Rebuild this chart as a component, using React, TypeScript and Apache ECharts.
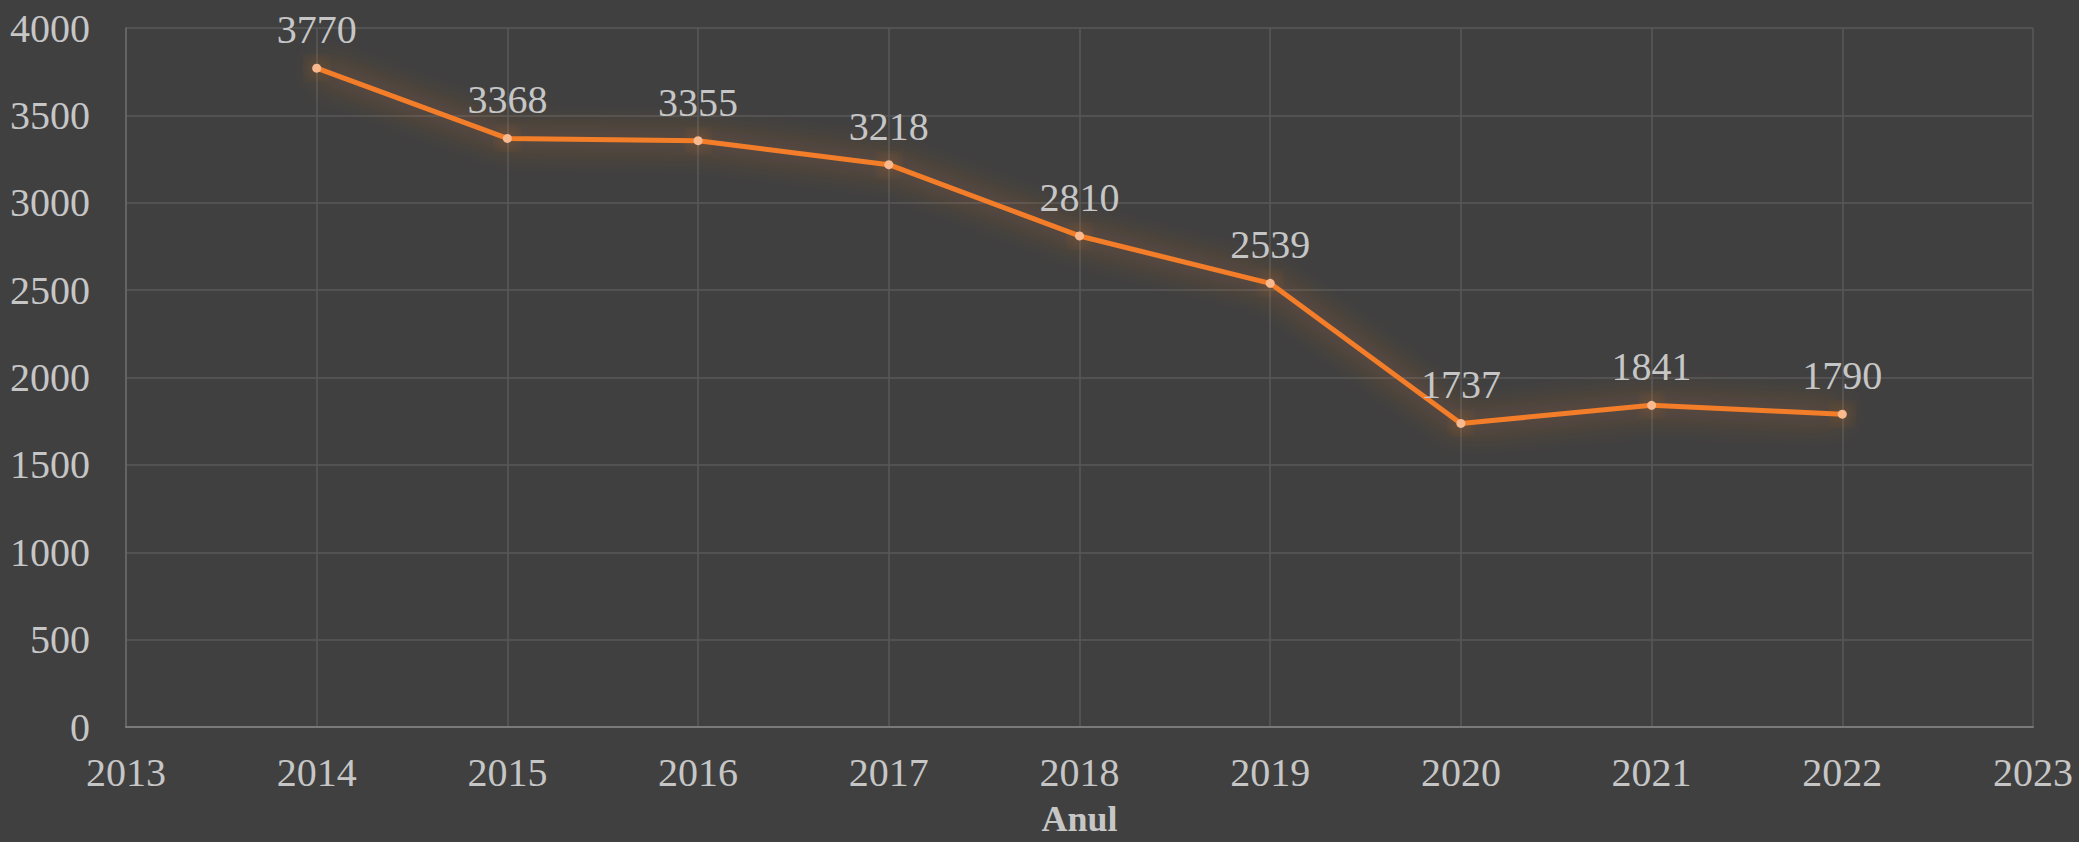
import React, { useEffect, useRef } from "react";
import * as echarts from "echarts";

const years = [2014, 2015, 2016, 2017, 2018, 2019, 2020, 2021, 2022];
const values = [3770, 3368, 3355, 3218, 2810, 2539, 1737, 1841, 1790];
const xAxisName = "Anul";

const FONT = "'Liberation Serif', 'DejaVu Serif', serif";
const TEXT = "#c6c6c6";

export default function App() {
  const ref = useRef<HTMLDivElement>(null);
  useEffect(() => {
    document.body.style.margin = "0";
    document.body.style.background = "#404040";
    const chart = echarts.init(ref.current!, null, { renderer: "svg" });
    chart.setOption({
      animation: false,
      backgroundColor: "#404040",
      grid: { left: 126, top: 28, right: 46, bottom: 115, containLabel: false, outerBoundsMode: "none" },
      xAxis: {
        type: "value",
        min: 2013,
        max: 2023,
        interval: 1,
        name: xAxisName,
        nameLocation: "middle",
        nameGap: 74,
        nameTextStyle: { color: TEXT, fontFamily: FONT, fontSize: 36, fontWeight: "bold" },
        axisLine: { lineStyle: { color: "#7a7a7a", width: 2 } },
        axisTick: { show: false },
        axisLabel: { color: TEXT, fontFamily: FONT, fontSize: 40, margin: 25, formatter: (v: number) => String(v) },
        splitLine: { show: true, lineStyle: { color: "#595959", width: 1.5 } },
      },
      yAxis: {
        type: "value",
        min: 0,
        max: 4000,
        interval: 500,
        axisLine: { show: true, lineStyle: { color: "#6a6a6a", width: 1.5 } },
        axisTick: { show: false },
        axisLabel: { color: TEXT, fontFamily: FONT, fontSize: 40, margin: 36, formatter: (v: number) => String(v) },
        splitLine: { show: true, lineStyle: { color: "#595959", width: 1.5 } },
      },
      series: [
        {
          type: "line",
          data: years.map((y, i) => [y, values[i]]),
          symbol: "circle",
          symbolSize: 9,
          itemStyle: { color: "#f9b98c", borderWidth: 0, shadowBlur: 18, shadowColor: "rgba(244,125,42,0.9)" },
          lineStyle: { color: "#f47d2a", width: 5, shadowBlur: 30, shadowColor: "rgba(244,125,42,0.85)" },
          label: {
            show: true,
            position: "top",
            distance: 14,
            color: TEXT,
            fontFamily: FONT,
            fontSize: 40,
          },
        },
      ],
    });
    return () => chart.dispose();
  }, []);
  return <div ref={ref} style={{ width: 2079, height: 842 }} />;
}
